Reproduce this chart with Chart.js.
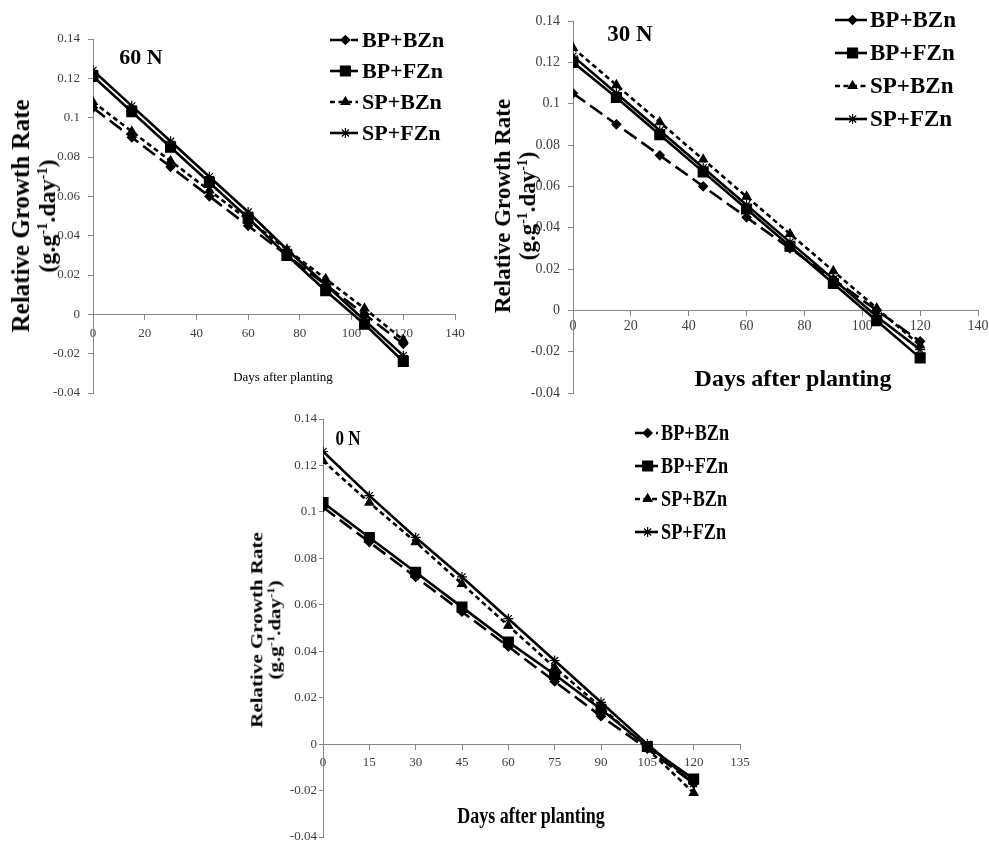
<!DOCTYPE html>
<html>
<head>
<meta charset="utf-8">
<script src="https://cdn.jsdelivr.net/npm/chart.js@4.4.0/dist/chart.umd.min.js"></script>
<style>
html, body { margin: 0; padding: 0; background: #fff; overflow: hidden; width: 989px; height: 841px; }
body { position: relative; font-family: "Liberation Serif", "Times New Roman", serif; color: #000; }
canvas { position: absolute; }
.t { position: absolute; white-space: nowrap; line-height: 1; transform: translate(-50%, -50%); }
.yt { position: absolute; white-space: nowrap; text-align: center; font-weight: bold; }
sup { font-size: 0.6em; vertical-align: 0.55em; line-height: 0; }
</style>
</head>
<body>
<canvas id="c60" width="480" height="410" style="left:0;top:0"></canvas>
<canvas id="c30" width="520" height="410" style="left:480px;top:0"></canvas>
<canvas id="c0" width="520" height="460" style="left:240px;top:400px"></canvas>

<div class="yt" style="left:34px;top:216px;font-size:25px;line-height:26px;transform:translate(-50%,-50%) rotate(-90deg)">Relative Growth Rate<br><span style="font-size:24px">(g.g<sup>-1</sup>.day<sup>-1</sup>)</span></div>
<div class="yt" style="left:515px;top:206px;font-size:23px;line-height:25px;transform:translate(-50%,-50%) rotate(-90deg)">Relative Growth Rate<br>(g.g<sup>-1</sup>.day<sup>-1</sup>)</div>
<div class="yt" style="left:266px;top:630px;font-size:21px;line-height:23px;transform:translate(-50%,-50%) rotate(-90deg) scaleY(0.78)">Relative Growth Rate<br>(g.g<sup>-1</sup>.day<sup>-1</sup>)</div>

<div class="t" style="left:283px;top:376px;font-size:13px">Days after planting</div>
<div class="t" style="left:793px;top:378px;font-size:24px;font-weight:bold">Days after planting</div>
<div class="t" style="left:531px;top:815px;font-size:24px;font-weight:bold;transform:translate(-50%,-50%) scaleX(0.75)">Days after planting</div>

<div class="t" style="left:141px;top:57px;font-size:22px;font-weight:bold">60 N</div>
<div class="t" style="left:630px;top:33px;font-size:23px;font-weight:bold">30 N</div>
<div class="t" style="left:348px;top:438px;font-size:20px;font-weight:bold;transform:translate(-50%,-50%) scaleX(0.85)">0 N</div>

<script>
// days after planting, same for every panel
const days = [0, 15, 30, 45, 60, 75, 90, 105, 120];
const seriesNames = ["BP+BZn", "BP+FZn", "SP+BZn", "SP+FZn"];

const xTicksA = [0, 20, 40, 60, 80, 100, 120, 140];
const xTicksB = [0, 15, 30, 45, 60, 75, 90, 105, 120, 135];
const yTicks = [-0.04, -0.02, 0, 0.02, 0.04, 0.06, 0.08, 0.1, 0.12, 0.14];

// 60 N
const n60_BP_BZn = [0.105, 0.090, 0.075, 0.060, 0.045, 0.030, 0.015, 0.000, -0.015];
const n60_BP_FZn = [0.121, 0.103, 0.085, 0.067, 0.049, 0.030, 0.012, -0.005, -0.024];
const n60_SP_BZn = [0.108, 0.093, 0.078, 0.063, 0.048, 0.033, 0.018, 0.003, -0.013];
const n60_SP_FZn = [0.124, 0.106, 0.088, 0.070, 0.052, 0.033, 0.015, -0.003, -0.021];

// 30 N
const n30_BP_BZn = [0.105, 0.090, 0.075, 0.060, 0.045, 0.030, 0.015, 0.000, -0.015];
const n30_BP_FZn = [0.120, 0.103, 0.085, 0.067, 0.049, 0.031, 0.013, -0.005, -0.023];
const n30_SP_BZn = [0.127, 0.109, 0.091, 0.073, 0.055, 0.037, 0.019, 0.001, -0.017];
const n30_SP_FZn = [0.123, 0.105, 0.087, 0.069, 0.051, 0.033, 0.015, -0.003, -0.019];

// 0 N
const n0_BP_BZn = [0.102, 0.087, 0.072, 0.057, 0.042, 0.027, 0.012, -0.002, -0.017];
const n0_BP_FZn = [0.104, 0.089, 0.074, 0.059, 0.044, 0.030, 0.015, -0.001, -0.015];
const n0_SP_BZn = [0.122, 0.104, 0.087, 0.069, 0.051, 0.033, 0.016, -0.002, -0.021];
const n0_SP_FZn = [0.126, 0.107, 0.089, 0.072, 0.054, 0.036, 0.018, 0.000, -0.017];

const styles = [
    { dash: [15, 6], point: "rectRot", radius: 4.5 },
    { dash: [], point: "rect", radius: 7 },
    { dash: [5, 3.5], point: "triangle", radius: 5 },
    { dash: [], point: "star", radius: 5 }
];

const FONT = "'Liberation Serif', 'Times New Roman', serif";

// Excel style legend: short line sample with the marker, then the name
const excelLegend = {
    id: "excelLegend",
    afterDraw(chart, args, opts) {
        const ctx = chart.ctx;
        ctx.save();
        chart.data.datasets.forEach((ds, i) => {
            const y = opts.y + i * opts.gap;
            ctx.lineWidth = ds.borderWidth;
            ctx.strokeStyle = "#000";
            ctx.setLineDash(ds.borderDash || []);
            ctx.beginPath();
            ctx.moveTo(opts.x, y);
            ctx.lineTo(opts.x + opts.len, y);
            ctx.stroke();
            ctx.setLineDash([]);
            ctx.fillStyle = "#000";
            ctx.lineWidth = 1.2;
            Chart.helpers.drawPoint(ctx, {
                pointStyle: ds.pointStyle, radius: ds.pointRadius, borderWidth: 1.2, rotation: 0
            }, opts.x + opts.len * 0.55, y);

            ctx.save();
            ctx.translate(opts.x + opts.len + opts.textGap, y);
            ctx.scale(opts.sx || 1, 1);
            ctx.font = "bold " + opts.size + "px " + FONT;
            ctx.fillStyle = "#000";
            ctx.textBaseline = "middle";
            ctx.textAlign = "left";
            ctx.fillText(ds.label, 0, 1);
            ctx.restore();
        });
        ctx.restore();
    }
};

function makeChart(id, cfg) {
    const datasets = cfg.series.map((vals, i) => ({
        label: seriesNames[i],
        data: days.map((d, k) => ({ x: d, y: vals[k] })),
        borderColor: "#000",
        backgroundColor: "#000",
        borderWidth: 2.6,
        borderDash: styles[i].dash,
        pointStyle: styles[i].point,
        pointRadius: styles[i].radius,
        pointBackgroundColor: "#000",
        pointBorderColor: "#000",
        pointBorderWidth: 1.2,
        tension: 0
    }));

    const axisColor = "#868686";

    return new Chart(document.getElementById(id), {
        type: "line",
        data: { datasets },
        plugins: [excelLegend],
        options: {
            responsive: false,
            animation: false,
            events: [],
            layout: { padding: cfg.padding },
            plugins: {
                legend: { display: false },
                tooltip: { enabled: false },
                excelLegend: cfg.legend
            },
            scales: {
                x: {
                    type: "linear",
                    min: 0,
                    max: cfg.xTicks[cfg.xTicks.length - 1],
                    position: { y: 0 },
                    afterBuildTicks: s => { s.ticks = cfg.xTicks.map(v => ({ value: v })); },
                    ticks: {
                        font: { family: FONT, size: cfg.tickSize },
                        color: "#404040",
                        padding: cfg.xPad,
                        maxRotation: 0,
                        autoSkip: false
                    },
                    grid: { drawOnChartArea: false, drawTicks: true, tickLength: 5, color: axisColor },
                    border: { color: axisColor, width: 1 }
                },
                y: {
                    min: -0.04,
                    max: 0.14,
                    position: "left",
                    afterBuildTicks: s => { s.ticks = yTicks.map(v => ({ value: v })); },
                    afterFit: s => { s.width = 50; },
                    ticks: {
                        font: { family: FONT, size: cfg.tickSize },
                        color: "#404040",
                        padding: cfg.yPad,
                        callback: v => String(v)
                    },
                    grid: { drawOnChartArea: false, drawTicks: true, tickLength: cfg.yTick, color: axisColor },
                    border: { color: axisColor, width: 1 }
                }
            }
        }
    });
}

makeChart("c60", {
    series: [n60_BP_BZn, n60_BP_FZn, n60_SP_BZn, n60_SP_FZn],
    xTicks: xTicksA,
    padding: { left: 43, top: 39, right: 25, bottom: 17 },
    tickSize: 13, xPad: 6, yPad: 8, yTick: 5,
    legend: { x: 330, y: 40, gap: 31, len: 28, textGap: 4, size: 22 }
});

makeChart("c30", {
    series: [n30_BP_BZn, n30_BP_FZn, n30_SP_BZn, n30_SP_FZn],
    xTicks: xTicksA,
    padding: { left: 43, top: 21, right: 22, bottom: 17 },
    tickSize: 14, xPad: 3, yPad: 8, yTick: 5,
    legend: { x: 355, y: 20, gap: 33, len: 32, textGap: 3, size: 23 }
});

makeChart("c0", {
    series: [n0_BP_BZn, n0_BP_FZn, n0_SP_BZn, n0_SP_FZn],
    xTicks: xTicksB,
    padding: { left: 33, top: 19, right: 20, bottom: 23 },
    tickSize: 13, xPad: 6, yPad: 2, yTick: 4,
    legend: { x: 395, y: 33, gap: 33, len: 23, textGap: 3, size: 24, sx: 0.76 }
});
</script>
</body>
</html>
